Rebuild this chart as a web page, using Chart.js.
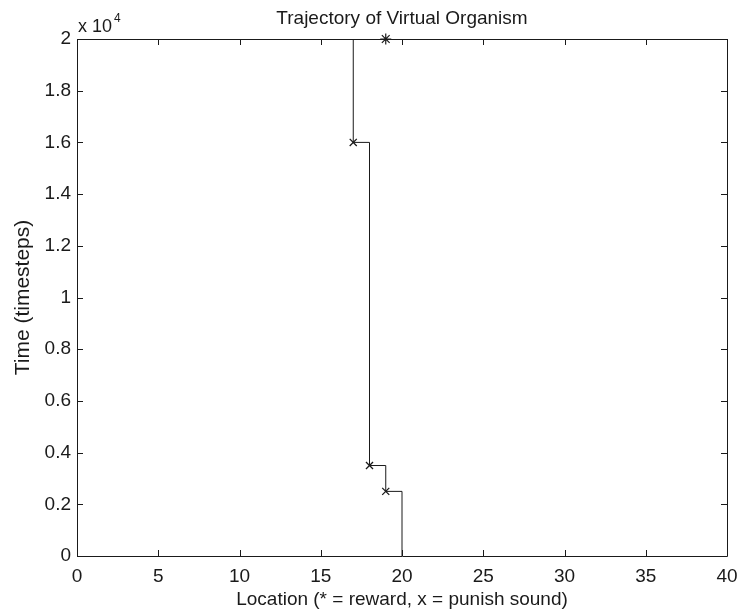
<!DOCTYPE html>
<html>
<head>
<meta charset="utf-8">
<script src="https://cdn.jsdelivr.net/npm/chart.js@4/dist/chart.umd.min.js"></script>
<style>
  html, body { margin: 0; padding: 0; background: #fff; }
  #wrap { width: 741px; height: 614px; position: relative; }
</style>
</head>
<body>
<div id="wrap"><canvas id="c" width="741" height="614"></canvas></div>
<script>
// Trajectory of the organism: location against time (steps between visits)
const pathLocation = [20, 20, 19, 19, 18, 18, 17, 17];
const pathTime     = [0, 2500, 2500, 3500, 3500, 16000, 16000, 20000];

// Punish-sound events (x markers)
const punishLocation = [19, 18, 17];
const punishTime     = [2500, 3500, 16000];

// Reward events (* markers)
const rewardLocation = [19];
const rewardTime     = [20000];

const xTicks = [0, 5, 10, 15, 20, 25, 30, 35, 40];
const yTicks = [0, 2000, 4000, 6000, 8000, 10000, 12000, 14000, 16000, 18000, 20000];

const FONT = '"Liberation Sans", Arial, Helvetica, sans-serif';
const INK = '#1a1a1a';

const toPoints = (xs, ys) => xs.map((x, i) => ({ x: x, y: ys[i] }));

// Frame, inward tick marks on all four sides, title and the exponent note
const framePlugin = {
  id: 'frame',
  afterDraw(chart) {
    const { ctx, chartArea: a, scales } = chart;
    ctx.save();
    ctx.strokeStyle = INK;
    ctx.lineWidth = 1;
    ctx.beginPath();
    ctx.rect(a.left + 0.5, a.top + 0.5, a.right - a.left, a.bottom - a.top);
    ctx.stroke();
    const len = 6;
    ctx.beginPath();
    xTicks.forEach(v => {
      const px = Math.round(scales.x.getPixelForValue(v)) + 0.5;
      ctx.moveTo(px, a.bottom); ctx.lineTo(px, a.bottom - len);
      ctx.moveTo(px, a.top); ctx.lineTo(px, a.top + len);
    });
    yTicks.forEach(v => {
      const py = Math.round(scales.y.getPixelForValue(v)) + 0.5;
      ctx.moveTo(a.left, py); ctx.lineTo(a.left + len, py);
      ctx.moveTo(a.right, py); ctx.lineTo(a.right - len, py);
    });
    ctx.stroke();
    // Title
    ctx.fillStyle = INK;
    ctx.textAlign = 'center';
    ctx.textBaseline = 'alphabetic';
    ctx.font = '19px ' + FONT;
    ctx.fillText('Trajectory of Virtual Organism', (a.left + a.right) / 2, 24);
    // Exponent of y ticks
    ctx.textAlign = 'left';
    ctx.font = '18px ' + FONT;
    ctx.fillText('x 10', 78, 32);
    ctx.font = '12px ' + FONT;
    ctx.fillText('4', 114, 22);
    ctx.restore();
  }
};

new Chart(document.getElementById('c'), {
  type: 'scatter',
  data: {
    datasets: [
      {
        label: 'path',
        data: toPoints(pathLocation, pathTime),
        showLine: true,
        borderColor: INK,
        borderWidth: 1,
        pointRadius: 0,
        tension: 0
      },
      {
        label: 'punish sound',
        data: toPoints(punishLocation, punishTime),
        showLine: false,
        pointStyle: 'crossRot',
        pointRadius: 5,
        pointBorderColor: INK,
        pointBorderWidth: 1.3
      },
      {
        label: 'reward',
        data: toPoints(rewardLocation, rewardTime),
        showLine: false,
        pointStyle: 'star',
        pointRadius: 5.5,
        pointBorderColor: INK,
        pointBorderWidth: 1.2
      }
    ]
  },
  options: {
    responsive: false,
    animation: false,
    clip: false,
    layout: { padding: { left: 0, top: 39, right: 14, bottom: 0 } },
    plugins: {
      legend: { display: false },
      tooltip: { enabled: false },
      title: { display: false }
    },
    scales: {
      x: {
        type: 'linear',
        min: 0, max: 40,
        afterBuildTicks(s) { s.ticks = xTicks.map(v => ({ value: v })); },
        afterFit(s) { s.height = 58; },
        grid: { display: false },
        border: { display: false },
        ticks: {
          color: INK,
          font: { family: FONT, size: 19 },
          padding: 1,
          maxRotation: 0,
          callback: v => String(v)
        },
        title: {
          display: true,
          text: 'Location (* = reward, x = punish sound)',
          color: INK,
          font: { family: FONT, size: 19 },
          padding: { top: 0, bottom: 3 }
        }
      },
      y: {
        type: 'linear',
        min: 0, max: 20000,
        afterBuildTicks(s) { s.ticks = yTicks.map(v => ({ value: v })); },
        afterFit(s) { s.width = 77; },
        grid: { display: false },
        border: { display: false },
        ticks: {
          color: INK,
          font: { family: FONT, size: 19 },
          padding: -2,
          callback: v => String(Math.round(v / 1000) / 10)
        },
        title: {
          display: true,
          text: 'Time (timesteps)',
          color: INK,
          font: { family: FONT, size: 21 },
          padding: { top: 11, bottom: 0 }
        }
      }
    }
  },
  plugins: [framePlugin]
});
</script>
</body>
</html>
